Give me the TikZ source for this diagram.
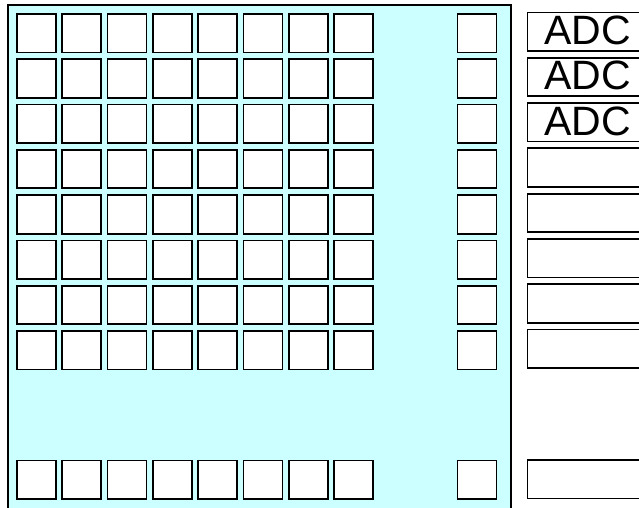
\documentclass[tikz,border=0pt]{standalone}
\usepackage{fontspec}
\setmainfont{Liberation Sans}
\definecolor{bgcyan}{HTML}{CCFFFF}
\begin{document}
\begin{tikzpicture}[x=1pt,y=-1pt,
  cell/.style={draw=black,fill=white,line width=1.8pt,minimum width=39pt,minimum height=38.5pt,inner sep=0pt,anchor=north west},
  adcbox/.style={draw=black,fill=white,line width=1.8pt,minimum width=121pt,minimum height=38.5pt,inner sep=0pt,anchor=north west,font=\fontsize{41}{41}\selectfont}]
\useasboundingbox (0,0) rectangle (639,507);
\clip (0,0) rectangle (639,507);
\fill[white] (0,0) rectangle (639,507);
\draw[fill=bgcyan,line width=2pt] (8,520) -- (8,5) -- (511,5) -- (511,520);
\foreach \r [count=\ri] in {13,58.3,103.6,148.9,194.2,239.5,284.8,330.1,459.5}{
  \foreach \c [count=\ci] in {16,61.3,106.6,151.9,197.2,242.5,287.8,333.1}{
    \node[cell] (c\ri-\ci) at (\c,\r) {};
  }
  \node[cell] (r\ri) at (456.5,\r) {};
}
\foreach \r [count=\ri] in {11.5,56.8,102.1,147.4,192.7,238,283.3,328.6,459}{
  \ifnum\ri<4
    \node[adcbox] (adc\ri) at (526.5,\r) {\raisebox{3pt}{ADC}};
  \else
    \node[adcbox] (adc\ri) at (526.5,\r) {};
  \fi
}
\end{tikzpicture}
\end{document}
